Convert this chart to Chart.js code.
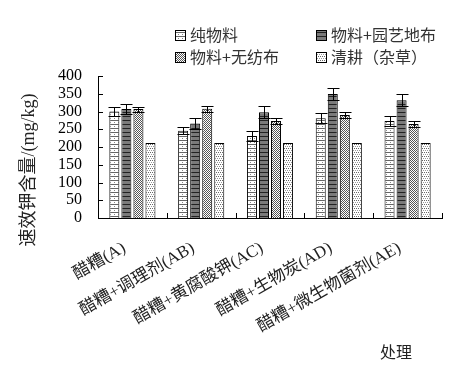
<!DOCTYPE html>
<html>
<head>
<meta charset="utf-8">
<script src="https://cdn.jsdelivr.net/npm/chart.js@4.4.1/dist/chart.umd.min.js"></script>
<style>
  html, body { margin: 0; padding: 0; background: #fff; }
  #wrap { width: 466px; height: 376px; }
</style>
</head>
<body>
<div id="wrap"><canvas id="chart" width="466" height="376"></canvas></div>
<script>
// ── Data ──────────────────────────────────────────
const categories = ['醋糟(A)', '醋糟+调理剂(AB)', '醋糟+黄腐酸钾(AC)', '醋糟+生物炭(AD)', '醋糟+微生物菌剂(AE)'];
const seriesNames = ['纯物料', '物料+园艺地布', '物料+无纺布', '清耕（杂草）'];
const pureValues = [300, 246, 231, 281, 273];
const pureErrors = [13, 10, 13, 14, 14];
const fabricValues = [307, 266, 298, 349, 332];
const fabricErrors = [15, 15, 17, 16, 16];
const nonwovenValues = [307, 308, 273, 290, 265];
const nonwovenErrors = [7, 8, 8, 8, 8];
const weedValues = [211, 211, 211, 211, 211];
const yTicks = [0, 50, 100, 150, 200, 250, 300, 350, 400];

const SERIF_CJK = '"Liberation Serif", "Noto Sans CJK SC", serif';
const CJK = '"Noto Sans CJK SC", sans-serif';

// ── Fill patterns ─────────────────────────────────
function makePattern(w, h, bg, pixels) {
    const c = document.createElement('canvas');
    c.width = w; c.height = h;
    const g = c.getContext('2d');
    g.fillStyle = bg;
    g.fillRect(0, 0, w, h);
    pixels.forEach(p => { g.fillStyle = p[2]; g.fillRect(p[0], p[1], 1, 1); });
    return g.createPattern(c, 'repeat');
}

const patPure = makePattern(4, 4, '#fff', [
    [0, 0, '#666'], [1, 0, '#666'], [2, 0, '#666'], [3, 0, '#666'], [2, 2, '#888']
]);
const patFabric = makePattern(1, 4, '#7a7a7a', [[0, 0, '#222']]);
const patNonwoven = makePattern(2, 2, '#fff', [[0, 0, '#555'], [1, 1, '#555']]);
const patWeed = makePattern(4, 4, '#fff', [
    [0, 0, '#666'], [2, 0, '#666'], [1, 2, '#999'], [3, 2, '#999']
]);
const patterns = [patPure, patFabric, patNonwoven, patWeed];
const errorSets = [pureErrors, fabricErrors, nonwovenErrors, null];

// ── Custom drawing: error bars, ticks, legend, titles ──
const extras = {
    id: 'extras',
    afterDatasetsDraw(chart) {
        const ctx = chart.ctx;
        const y = chart.scales.y;
        ctx.save();
        ctx.strokeStyle = '#000';
        ctx.lineWidth = 1;
        chart.data.datasets.forEach((ds, di) => {
            const errs = errorSets[di];
            if (!errs) return;
            chart.getDatasetMeta(di).data.forEach((bar, i) => {
                const x = Math.round(bar.x) + 0.5;
                const top = Math.round(y.getPixelForValue(ds.data[i] + errs[i])) + 0.5;
                const bot = Math.round(y.getPixelForValue(ds.data[i] - errs[i])) + 0.5;
                ctx.beginPath();
                ctx.moveTo(x, top); ctx.lineTo(x, bot);
                ctx.moveTo(x - 6, top); ctx.lineTo(x + 6, top);
                ctx.moveTo(x - 6, bot); ctx.lineTo(x + 6, bot);
                ctx.stroke();
            });
        });
        ctx.restore();
    },
    afterDraw(chart) {
        const ctx = chart.ctx;
        const area = chart.chartArea;
        const y = chart.scales.y;
        ctx.save();
        ctx.strokeStyle = '#000';
        ctx.lineWidth = 1;
        // inward ticks
        ctx.beginPath();
        yTicks.forEach(v => {
            const py = Math.round(y.getPixelForValue(v)) + 0.5;
            ctx.moveTo(area.left, py); ctx.lineTo(area.left + 5, py);
        });
        const step = (area.right - area.left) / categories.length;
        for (let k = 0; k <= categories.length; k++) {
            const px = Math.round(area.left + k * step) + 0.5;
            ctx.moveTo(px, area.bottom); ctx.lineTo(px, area.bottom - 5);
        }
        ctx.stroke();

        // legend (2 x 2)
        const cols = [175, 316];
        const rows = [35, 57];
        ctx.font = '16px ' + CJK;
        ctx.textBaseline = 'middle';
        ctx.textAlign = 'left';
        seriesNames.forEach((name, i) => {
            const bx = cols[i % 2], by = rows[Math.floor(i / 2)];
            ctx.fillStyle = patterns[i];
            ctx.fillRect(bx, by - 5, 10, 10);
            ctx.strokeRect(bx + 0.5, by - 4.5, 10, 10);
            ctx.fillStyle = '#333';
            ctx.fillText(name, bx + 15, by);
        });

        // axis titles
        ctx.fillStyle = '#222';
        ctx.textAlign = 'center';
        ctx.fillText('处理', 396, 352);
        ctx.translate(29, 170);
        ctx.rotate(-Math.PI / 2);
        ctx.font = '18px ' + SERIF_CJK;
        ctx.fillText('速效钾含量/(mg/kg)', 0, 0);
        ctx.restore();
    }
};

// ── Chart ─────────────────────────────────────────
function dataset(label, values, i) {
    return {
        label,
        data: values,
        backgroundColor: patterns[i],
        borderColor: '#000',
        borderWidth: 1,
        borderSkipped: 'bottom',
        categoryPercentage: 0.7,
        barPercentage: 0.83
    };
}

new Chart(document.getElementById('chart'), {
    type: 'bar',
    data: {
        labels: categories,
        datasets: [
            dataset(seriesNames[0], pureValues, 0),
            dataset(seriesNames[1], fabricValues, 1),
            dataset(seriesNames[2], nonwovenValues, 2),
            dataset(seriesNames[3], weedValues, 3)
        ]
    },
    options: {
        responsive: false,
        animation: false,
        layout: { padding: { top: 76, right: 24, left: 0, bottom: 0 } },
        plugins: {
            legend: { display: false },
            tooltip: { enabled: false }
        },
        scales: {
            y: {
                min: 0,
                max: 400,
                afterFit(scale) { scale.width = 98; },
                afterBuildTicks(scale) { scale.ticks = yTicks.map(v => ({ value: v })); },
                grid: { display: false, drawTicks: false },
                border: { color: '#000', width: 1 },
                ticks: {
                    autoSkip: false,
                    padding: 16,
                    color: '#000',
                    font: { size: 16, family: '"Liberation Serif", serif' }
                }
            },
            x: {
                afterFit(scale) { scale.height = 158; },
                grid: { display: false, drawTicks: false },
                border: { color: '#000', width: 1 },
                ticks: {
                    minRotation: 30,
                    maxRotation: 30,
                    autoSkip: false,
                    padding: 20,
                    labelOffset: -8,
                    color: '#222',
                    font: { size: 17, family: SERIF_CJK }
                }
            }
        }
    },
    plugins: [extras]
});
</script>
</body>
</html>
